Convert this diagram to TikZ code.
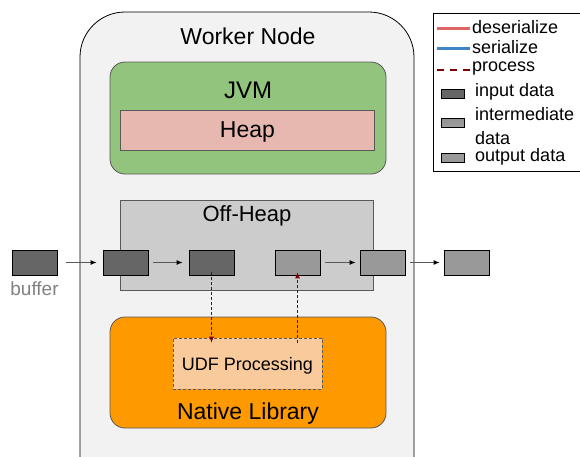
\documentclass[tikz,border=0pt]{standalone}
\usepackage{fontspec}
\setmainfont{Liberation Sans}
\usetikzlibrary{arrows.meta}
\definecolor{wbg}{HTML}{F2F2F2}
\definecolor{jvmg}{HTML}{93C47D}
\definecolor{heapc}{HTML}{E6B8AF}
\definecolor{offc}{HTML}{CCCCCC}
\definecolor{natc}{HTML}{FF9900}
\definecolor{udfc}{HTML}{F9CB9C}
\definecolor{inc}{HTML}{666666}
\definecolor{outc}{HTML}{999999}
\definecolor{procc}{HTML}{800000}
\definecolor{desc}{HTML}{E06666}
\definecolor{serc}{HTML}{3D85C6}
\definecolor{edgec}{HTML}{595959}
\tikzset{
  x=1pt, y=-1pt,
  region/.style={draw=edgec, line width=0.8pt},
  datain/.style={draw=black, fill=inc, minimum width=45pt, minimum height=25pt, inner sep=0pt, line width=0.7pt},
  dataout/.style={draw=black, fill=outc, minimum width=45pt, minimum height=25pt, inner sep=0pt, line width=0.7pt},
  flow/.style={draw=edgec, line width=1pt, -{Latex[length=6pt,width=5pt,black]}},
  proc/.style={draw=procc, line width=0.8pt, dash pattern=on 3pt off 2pt, -{Latex[length=6pt,width=5pt]}},
  lbl/.style={font=\fontsize{23}{27}\selectfont, inner sep=0pt},
  leg/.style={font=\fontsize{18}{22}\selectfont, inner sep=0pt, anchor=west, align=left}
}
\begin{document}
\begin{tikzpicture}
\useasboundingbox (0,0) rectangle (580,456);
\clip (0,0) rectangle (580,456);
% worker node
\draw[fill=wbg, draw=black, line width=0.8pt, rounded corners=45pt] (80,12) rectangle (414,520);
\node[lbl] (wn) at (248,36) {Worker Node};
% JVM
\draw[region, fill=jvmg, rounded corners=15pt] (110,62) rectangle (386,174);
\node[lbl, font=\fontsize{24}{28}\selectfont] (jvm) at (248,90) {JVM};
\node[region, fill=heapc, minimum width=254pt, minimum height=40pt, inner sep=0pt, anchor=north west] (heap) at (120,110) {};
\node[lbl] (heapl) at ([yshift=-2pt]heap.center) {Heap};
% Off-heap
\node[region, fill=offc, minimum width=253pt, minimum height=90pt, inner sep=0pt, anchor=north west] (off) at (120,200) {};
\node[font=\fontsize{22}{26}\selectfont, inner sep=0pt] (offl) at (247,216) {Off-Heap};
% Native
\draw[region, fill=natc, rounded corners=15pt] (110,317) rectangle (386,428);
\node[lbl] (nat) at (248,414) {Native Library};
\node[draw=edgec, dash pattern=on 3pt off 2pt, line width=0.8pt, fill=udfc, minimum width=149pt, minimum height=51pt, inner sep=0pt] (udf) at (247.5,363.5) {};
\node[font=\fontsize{18}{22}\selectfont, inner sep=0pt] (udfl) at ([yshift=-2pt]udf.center) {UDF Processing};
% data boxes
\node[datain] (b1) at (34.5,262.5) {};
\node[font=\fontsize{19}{23}\selectfont, text=gray, inner sep=0pt] (buf) at (34.5,289) {buffer};
\node[datain] (b2) at (125.5,262.5) {};
\node[datain] (b3) at (211.5,262.5) {};
\node[dataout] (b4) at (297.5,262.5) {};
\node[dataout] (b5) at (382.5,262.5) {};
\node[dataout] (b6) at (466.5,262.5) {};
\draw[flow] ([xshift=9pt]b1.east) -- ([xshift=-6pt]b2.west);
\draw[flow] ([xshift=5pt]b2.east) -- ([xshift=-6pt]b3.west);
\draw[flow] ([xshift=5pt]b4.east) -- ([xshift=-4pt]b5.west);
\draw[flow] ([xshift=5pt]b5.east) -- ([xshift=-4pt]b6.west);
\draw[proc] ([yshift=3pt]b3.south) -- ([yshift=-5pt]b3.south |- udf.north);
\draw[proc] ([yshift=-5pt]b4.south |- udf.north) -- ([yshift=3pt]b4.south);
% legend
\node[draw=black, line width=0.8pt, minimum width=147pt, minimum height=158pt, inner sep=0pt, anchor=north west] (legend) at (433,13) {};
\coordinate (l1a) at (437,28); \coordinate (l1b) at (470,28);
\draw[desc, line width=3pt] (l1a) -- (l1b);
\node[leg] (t1) at (472,27) {deserialize};
\coordinate (l2a) at (437,48); \coordinate (l2b) at (470,48);
\draw[serc, line width=3pt] (l2a) -- (l2b);
\node[leg] (t2) at (472,47) {serialize};
\coordinate (l3a) at (437,70); \coordinate (l3b) at (470,70);
\draw[procc, line width=2.5pt, dash pattern=on 7pt off 6pt] (l3a) -- (l3b);
\node[leg] (t3) at (472,69) {process};
\node[draw=black, fill=inc, minimum width=23pt, minimum height=9pt, inner sep=0pt, line width=0.7pt] (i1) at (452.5,94) {};
\node[leg] (t4) at (475,92) {input data};
\node[draw=black, top color=gray!85, middle color=gray!45, bottom color=gray!75, minimum width=23pt, minimum height=9pt, inner sep=0pt, line width=0.7pt] (i2) at (452.5,123) {};
\node[leg] (t5) at (475,114) {intermediate};
\node[leg] (t5b) at (475,138) {data};
\node[draw=black, fill=outc, minimum width=23pt, minimum height=9pt, inner sep=0pt, line width=0.7pt] (i3) at (452.5,158) {};
\node[leg] (t6) at (475,157) {output data};
\end{tikzpicture}
\end{document}
